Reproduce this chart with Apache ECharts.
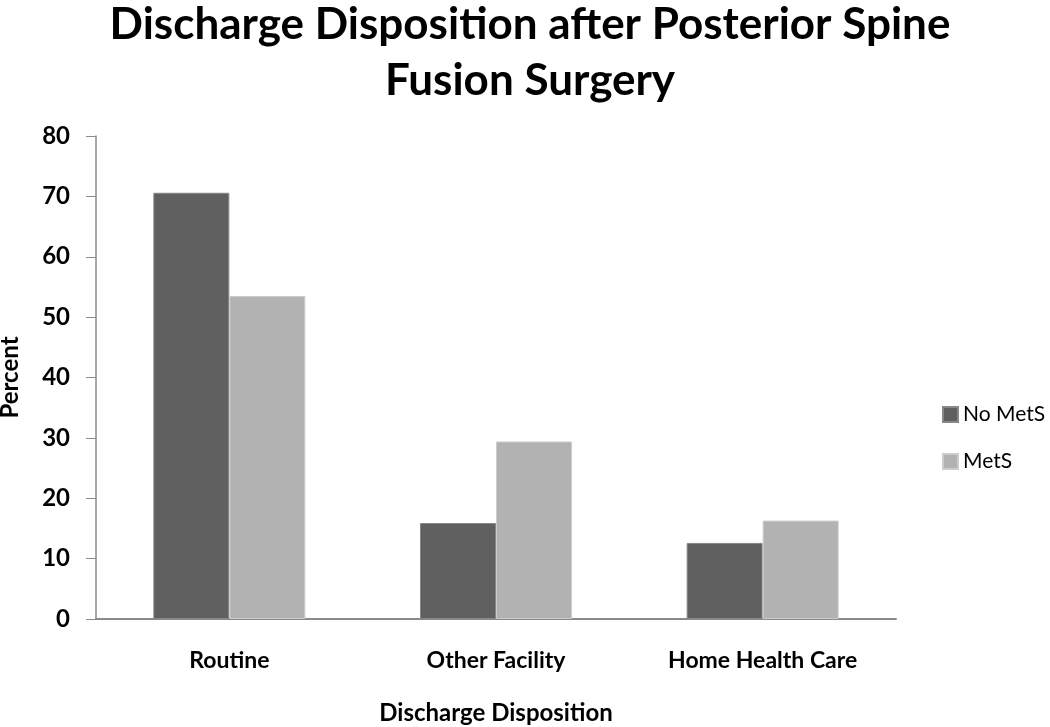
<!DOCTYPE html>
<html>
<head>
<meta charset="utf-8">
<script src="https://cdn.jsdelivr.net/npm/echarts@6/dist/echarts.min.js"></script>
<style>
html,body{margin:0;padding:0;background:#fff;}
#chart{width:1050px;height:727px;}
</style>
</head>
<body>
<div id="chart"></div>
<script>
const titleLines = ['Discharge Disposition after Posterior Spine', 'Fusion Surgery'];
const categories = ['Routine', 'Other Facility', 'Home Health Care'];
const seriesNames = ['No MetS', 'MetS'];
const noMetS = [70.6, 15.9, 12.6];
const metS = [53.5, 29.4, 16.3];
const yTicks = [0, 10, 20, 30, 40, 50, 60, 70, 80];
const xAxisName = 'Discharge Disposition';
const yAxisName = 'Percent';

const FONT = 'Lato, "Open Sans", sans-serif';
const chart = echarts.init(document.getElementById('chart'), null, {renderer: 'canvas'});
chart.setOption({
  backgroundColor: '#ffffff',
  animation: false,
  title: {
    text: titleLines.join('\n'),
    left: 525,
    top: -8,
    textAlign: 'center',
    textStyle: {fontFamily: FONT, fontWeight: 'bold', fontSize: 44, lineHeight: 56, color: '#000'}
  },
  legend: {
    orient: 'vertical',
    left: 937,
    top: 399,
    itemWidth: 15,
    itemHeight: 15,
    itemGap: 26,
    icon: 'rect',
    textStyle: {fontFamily: FONT, fontSize: 21, color: '#000'},
    data: seriesNames
  },
  grid: {left: 96, right: 154, top: 136, bottom: 108, containLabel: false, outerBoundsMode: 'none'},
  xAxis: {
    type: 'category',
    data: categories,
    name: xAxisName,
    nameLocation: 'middle',
    nameGap: 82,
    nameTextStyle: {fontFamily: FONT, fontWeight: 'bold', fontSize: 24, color: '#000'},
    axisLine: {lineStyle: {color: '#8a8a8a', width: 2}},
    axisTick: {show: false},
    axisLabel: {fontFamily: FONT, fontWeight: 'bold', fontSize: 23, color: '#000', margin: 30}
  },
  yAxis: {
    type: 'value',
    min: 0,
    max: 80,
    interval: 10,
    name: yAxisName,
    nameLocation: 'middle',
    nameGap: 74,
    nameTextStyle: {fontFamily: FONT, fontWeight: 'bold', fontSize: 24, color: '#000'},
    axisLine: {show: true, lineStyle: {color: '#8a8a8a', width: 1.5}},
    axisTick: {show: true, length: 10, lineStyle: {color: '#8a8a8a'}},
    splitLine: {show: false},
    axisLabel: {
      fontFamily: FONT, fontWeight: 'bold', fontSize: 24, color: '#000', margin: 26,
      formatter: v => yTicks.includes(v) ? String(v) : ''
    }
  },
  series: [
    {
      name: seriesNames[0], type: 'bar', data: noMetS,
      barGap: '0%', barCategoryGap: '43%',
      itemStyle: {color: '#606060', borderColor: '#888888', borderWidth: 1}
    },
    {
      name: seriesNames[1], type: 'bar', data: metS,
      barGap: '0%', barCategoryGap: '43%',
      itemStyle: {color: '#b2b2b2', borderColor: '#cccccc', borderWidth: 1}
    }
  ]
});
</script>
</body>
</html>
